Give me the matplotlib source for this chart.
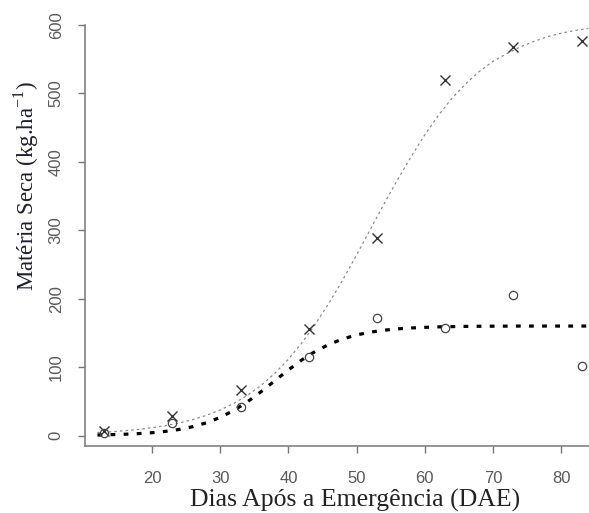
import matplotlib
matplotlib.use("Agg")
import matplotlib.pyplot as plt

plt.rcParams['mathtext.fontset'] = 'custom'
plt.rcParams['mathtext.rm'] = 'Liberation Serif'

# observed points (DAE)
dias = [13, 23, 33, 43, 53, 63, 73, 83]
ms_cruz = [7, 28, 67, 155, 289, 519, 568, 577]
ms_circulo = [4, 18, 41, 115, 172, 157, 206, 102]

# fitted curves
curva_x = [12, 14, 16, 18, 20, 22, 24, 26, 28, 30, 32, 34, 36, 38, 40, 42, 44,
           46, 48, 50, 52, 54, 56, 58, 60, 62, 64, 66, 68, 70, 72, 74, 76, 78,
           80, 82, 84]
curva_sup = [4.3, 5.5, 7.0, 8.9, 11.4, 14.5, 18.4, 23.3, 29.6, 37.3, 47.0, 58.8,
             73.3, 90.8, 111.5, 135.7, 163.4, 194.4, 228.1, 264.0, 301.0, 338.0,
             373.9, 407.6, 439.5, 468.0, 493.0, 514.0, 532.0, 547.0, 558.0,
             568.0, 576.0, 583.0, 588.0, 592.0, 595.0]
curva_inf = [0.8, 1.3, 1.9, 2.8, 4.1, 6.1, 8.9, 13.0, 18.7, 26.5, 36.7, 49.3,
             64.1, 80.0, 95.9, 110.7, 123.3, 133.4, 141.2, 147.0, 151.1, 153.9,
             155.9, 157.2, 158.1, 158.8, 159.2, 159.5, 159.7, 159.8, 159.9,
             160.0, 160.0, 160.0, 160.0, 160.0, 160.0]

fig = plt.figure(figsize=(5.89, 5.13), dpi=100)
ax = fig.add_axes([84.5 / 589, (513 - 446) / 513, 1 - 84.5 / 589, (446 - 25) / 513])

ax.plot(curva_x, curva_sup, color='#8a8a8a', lw=0.9, linestyle=(0, (2, 2.5)))
ax.plot(curva_x, curva_inf, color='black', lw=2.3, linestyle=(0, (1.5, 2.6)))
ax.plot(dias, ms_cruz, 'x', color='#333333', ms=7, mew=1.0, clip_on=False)
ax.plot(dias, ms_circulo, 'o', mfc='none', mec='#444444', ms=6, mew=0.9,
        clip_on=False)

ax.set_xlim(10.1, 84.08)
ax.set_ylim(-15.3, 599.5)
ax.set_xticks([20, 30, 40, 50, 60, 70, 80])
ax.set_yticks([0, 100, 200, 300, 400, 500, 600])

for s in ['top', 'right']:
    ax.spines[s].set_visible(False)
for s in ['left', 'bottom']:
    ax.spines[s].set_color('#777777')
    ax.spines[s].set_linewidth(1.1)

ax.tick_params(axis='both', direction='out', length=5, width=1.0,
               color='#777777', labelcolor='#5a5a5a', labelsize=12)
ax.tick_params(axis='x', pad=13)
ax.tick_params(axis='y', pad=10)
for lab in ax.get_yticklabels():
    lab.set_rotation(90)
    lab.set_va('center')
for lab in ax.get_xticklabels() + ax.get_yticklabels():
    lab.set_family('Liberation Sans')

fig.text(355.5 / 589, 0.012, 'Dias Após a Emergência (DAE)',
         family='Liberation Serif', fontsize=18.5, color='#222222',
         ha='center', va='baseline')
fig.text(26 / 589, 1 - 186 / 513, r'Matéria Seca (kg.ha$^{-1}$)',
         family='Liberation Serif', fontsize=16.5, color='#1e1e2e',
         ha='center', va='center', rotation=90)

fig.savefig('out.png', dpi=100)
